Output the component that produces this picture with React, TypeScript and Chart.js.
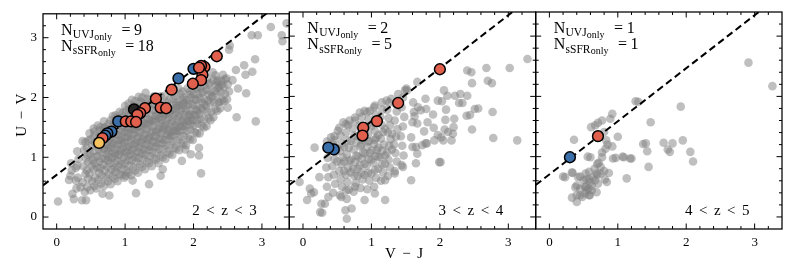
import React, { useEffect, useRef } from "react";
import { Chart, registerables } from "chart.js";

Chart.register(...registerables);

// ---------- data ----------
const X_MIN = -0.2;
const X_MAX = 3.4;
const Y_MIN = -0.2;
const Y_MAX = 3.4;
const X_TICKS = [0, 1, 2, 3];
const Y_TICKS = [0, 1, 2, 3];
const MINOR_STEP = 0.2;

const PANEL_LABELS = [
  ["2", "<", "z", "<", "3"],
  ["3", "<", "z", "<", "4"],
  ["4", "<", "z", "<", "5"],
];
const N_UVJ_ONLY = [9, 2, 1];
const N_SSFR_ONLY = [18, 5, 1];
const X_TITLE = ["V", "−", "J"];
const Y_TITLE = ["U", "−", "V"];

// UVJ selection boundary (end points)
const CUT_LINE = [
  { x: -0.2, y: 0.53 },
  { x: 3.4, y: 3.7 },
];

type P = [number, number];

const GRAY_1: P[] = [
  [0.18, 0.62], [0.22, 0.78], [0.21, 0.9],
  [0.29, 0.48], [0.31, 0.66], [0.28, 0.82], [0.32, 0.97], [0.3, 1.1],
  [0.41, 0.42], [0.38, 0.58], [0.42, 0.72], [0.39, 0.85], [0.43, 0.98], [0.4, 1.12], [0.42, 1.25],
  [0.49, 0.45], [0.52, 0.6], [0.48, 0.73], [0.51, 0.86], [0.53, 0.95], [0.49, 1.06], [0.52, 1.18], [0.5, 1.3], [0.48, 1.4],
  [0.58, 0.48], [0.61, 0.62], [0.62, 0.74], [0.59, 0.83], [0.63, 0.93], [0.6, 1.02], [0.62, 1.12], [0.58, 1.22], [0.61, 1.33], [0.63, 1.45], [0.6, 1.53],
  [0.69, 0.52], [0.72, 0.66], [0.7, 0.78], [0.68, 0.88], [0.71, 0.97], [0.73, 1.05], [0.69, 1.14], [0.72, 1.22], [0.7, 1.31], [0.74, 1.4], [0.71, 1.5], [0.69, 1.6],
  [0.79, 0.55], [0.82, 0.68], [0.8, 0.79], [0.78, 0.9], [0.81, 0.99], [0.83, 1.08], [0.79, 1.16], [0.82, 1.24], [0.8, 1.33], [0.84, 1.42], [0.81, 1.52], [0.79, 1.62], [0.82, 1.69],
  [0.89, 0.6], [0.92, 0.72], [0.9, 0.84], [0.88, 0.95], [0.91, 1.04], [0.93, 1.12], [0.89, 1.2], [0.92, 1.29], [0.9, 1.37], [0.94, 1.46], [0.91, 1.55], [0.88, 1.66], [0.92, 1.76],
  [0.99, 0.66], [1.02, 0.78], [1.0, 0.9], [0.98, 1.0], [1.01, 1.08], [1.03, 1.17], [0.99, 1.25], [1.02, 1.33], [1.0, 1.42], [1.04, 1.5], [1.01, 1.58], [0.98, 1.68], [1.02, 1.78], [1.0, 1.86],
  [1.09, 0.7], [1.12, 0.83], [1.1, 0.95], [1.08, 1.05], [1.11, 1.13], [1.13, 1.22], [1.09, 1.3], [1.12, 1.38], [1.1, 1.47], [1.14, 1.55], [1.11, 1.65], [1.08, 1.76], [1.12, 1.86], [1.1, 1.96],
  [1.19, 0.74], [1.22, 0.88], [1.2, 0.99], [1.18, 1.09], [1.21, 1.17], [1.23, 1.26], [1.19, 1.34], [1.22, 1.42], [1.2, 1.51], [1.24, 1.6], [1.21, 1.7], [1.18, 1.82], [1.22, 1.93], [1.2, 2.01],
  [1.29, 0.8], [1.32, 0.93], [1.3, 1.04], [1.28, 1.13], [1.31, 1.22], [1.33, 1.3], [1.29, 1.38], [1.32, 1.47], [1.3, 1.55], [1.34, 1.64], [1.31, 1.74], [1.28, 1.86], [1.32, 1.98], [1.3, 2.08],
  [1.39, 0.85], [1.42, 0.98], [1.4, 1.09], [1.38, 1.18], [1.41, 1.27], [1.43, 1.35], [1.39, 1.43], [1.42, 1.52], [1.4, 1.6], [1.44, 1.69], [1.41, 1.79], [1.38, 1.9], [1.42, 2.02],
  [1.49, 0.9], [1.52, 1.03], [1.5, 1.14], [1.48, 1.23], [1.51, 1.31], [1.53, 1.4], [1.49, 1.48], [1.52, 1.57], [1.5, 1.65], [1.54, 1.74], [1.51, 1.84], [1.48, 1.94], [1.52, 2.02],
  [1.59, 0.97], [1.62, 1.09], [1.6, 1.2], [1.58, 1.29], [1.61, 1.38], [1.63, 1.46], [1.59, 1.54], [1.62, 1.63], [1.6, 1.72], [1.64, 1.81], [1.61, 1.92], [1.58, 2.03],
  [1.69, 1.04], [1.72, 1.16], [1.7, 1.27], [1.68, 1.36], [1.71, 1.44], [1.73, 1.53], [1.69, 1.61], [1.72, 1.7], [1.7, 1.79], [1.74, 1.88], [1.71, 1.98], [1.68, 2.09],
  [1.79, 1.12], [1.82, 1.24], [1.8, 1.35], [1.78, 1.44], [1.81, 1.52], [1.83, 1.61], [1.79, 1.69], [1.82, 1.78], [1.8, 1.87], [1.84, 1.96], [1.81, 2.06], [1.78, 2.15],
  [1.89, 1.2], [1.92, 1.33], [1.9, 1.44], [1.88, 1.53], [1.91, 1.61], [1.93, 1.7], [1.89, 1.78], [1.92, 1.87], [1.9, 1.96], [1.94, 2.05], [1.91, 2.15],
  [1.99, 1.29], [2.02, 1.42], [2.0, 1.53], [1.98, 1.62], [2.01, 1.71], [2.03, 1.8], [1.99, 1.88], [2.02, 1.97], [2.0, 2.06], [2.04, 2.15], [2.01, 2.25],
  [2.09, 1.4], [2.12, 1.53], [2.1, 1.64], [2.08, 1.73], [2.11, 1.82], [2.13, 1.91], [2.09, 1.99], [2.12, 2.08], [2.1, 2.17], [2.13, 2.27],
  [2.19, 1.52], [2.22, 1.65], [2.2, 1.76], [2.18, 1.86], [2.21, 1.95], [2.23, 2.04], [2.19, 2.13], [2.22, 2.22], [2.2, 2.32],
  [2.29, 1.67], [2.32, 1.8], [2.3, 1.92], [2.28, 2.02], [2.31, 2.11], [2.33, 2.2], [2.29, 2.29], [2.32, 2.37],
  [2.39, 1.82], [2.42, 1.95], [2.4, 2.08], [2.38, 2.18], [2.41, 2.28], [2.43, 2.38],
  [2.49, 1.97], [2.52, 2.1], [2.5, 2.22], [2.48, 2.32],
  // interleaved second layer
  [0.45, 0.5], [0.46, 0.64], [0.44, 0.78], [0.46, 0.92], [0.45, 1.04], [0.44, 1.16], [0.46, 1.28],
  [0.55, 0.52], [0.56, 0.66], [0.54, 0.8], [0.56, 0.9], [0.55, 1.0], [0.54, 1.1], [0.56, 1.24], [0.55, 1.36], [0.54, 1.48],
  [0.65, 0.56], [0.66, 0.7], [0.64, 0.82], [0.66, 0.98], [0.65, 1.08], [0.64, 1.18], [0.66, 1.27], [0.65, 1.38], [0.64, 1.5],
  [0.75, 0.6], [0.76, 0.72], [0.74, 0.84], [0.76, 1.01], [0.75, 1.1], [0.74, 1.2], [0.76, 1.28], [0.75, 1.36], [0.74, 1.46], [0.76, 1.56],
  [0.85, 0.64], [0.86, 0.76], [0.84, 0.9], [0.86, 1.06], [0.85, 1.14], [0.84, 1.28], [0.86, 1.38], [0.85, 1.48], [0.84, 1.58], [0.86, 1.7],
  [0.95, 0.7], [0.96, 0.8], [0.94, 0.94], [0.96, 1.14], [0.95, 1.22], [0.94, 1.33], [0.96, 1.42], [0.95, 1.52], [0.94, 1.62], [0.96, 1.74],
  [1.05, 0.74], [1.06, 0.86], [1.04, 1.02], [1.06, 1.18], [1.05, 1.26], [1.04, 1.4], [1.06, 1.48], [1.05, 1.56], [1.04, 1.66], [1.06, 1.8], [1.05, 1.9],
  [1.15, 0.78], [1.16, 0.92], [1.14, 1.06], [1.16, 1.24], [1.15, 1.3], [1.14, 1.46], [1.16, 1.52], [1.15, 1.62], [1.14, 1.72], [1.16, 1.84], [1.15, 1.94],
  [1.25, 0.84], [1.26, 0.98], [1.24, 1.12], [1.26, 1.3], [1.25, 1.36], [1.24, 1.52], [1.26, 1.58], [1.25, 1.68], [1.24, 1.78], [1.26, 1.9], [1.25, 2.0],
  [1.35, 0.9], [1.36, 1.02], [1.34, 1.18], [1.36, 1.34], [1.35, 1.42], [1.34, 1.58], [1.36, 1.62], [1.35, 1.72], [1.34, 1.84], [1.36, 1.96],
  [1.45, 0.96], [1.46, 1.08], [1.44, 1.24], [1.46, 1.42], [1.45, 1.46], [1.44, 1.64], [1.46, 1.7], [1.45, 1.78], [1.44, 1.88], [1.46, 1.98],
  [1.55, 1.0], [1.56, 1.14], [1.54, 1.3], [1.56, 1.48], [1.55, 1.52], [1.54, 1.62], [1.56, 1.72], [1.55, 1.8], [1.54, 1.9],
  [1.65, 1.06], [1.66, 1.2], [1.64, 1.36], [1.66, 1.42], [1.65, 1.56], [1.64, 1.66], [1.66, 1.78], [1.65, 1.86], [1.64, 1.96],
  [1.75, 1.14], [1.76, 1.28], [1.74, 1.44], [1.76, 1.5], [1.75, 1.64], [1.74, 1.74], [1.76, 1.86], [1.75, 1.92], [1.74, 2.02],
  [1.85, 1.22], [1.86, 1.36], [1.84, 1.52], [1.86, 1.58], [1.85, 1.72], [1.84, 1.82], [1.86, 1.92], [1.85, 2.0], [1.84, 2.1],
  [1.95, 1.3], [1.96, 1.46], [1.94, 1.6], [1.96, 1.66], [1.95, 1.78], [1.94, 1.9], [1.96, 2.0], [1.95, 2.1],
  [2.05, 1.4], [2.06, 1.56], [2.04, 1.7], [2.06, 1.78], [2.05, 1.86], [2.04, 1.96], [2.06, 2.06], [2.05, 2.18],
  [2.15, 1.5], [2.16, 1.64], [2.14, 1.78], [2.16, 1.88], [2.15, 1.98], [2.14, 2.1], [2.16, 2.2],
  [2.25, 1.62], [2.26, 1.76], [2.24, 1.9], [2.26, 2.0], [2.25, 2.1], [2.24, 2.24],
  [2.35, 1.78], [2.36, 1.92], [2.34, 2.06], [2.36, 2.16], [2.35, 2.26],
  [2.45, 1.94], [2.46, 2.06], [2.44, 2.18], [2.46, 2.3],
  // denser core
  [0.75, 0.95], [0.85, 1.02], [0.95, 1.08], [1.05, 1.12], [1.15, 1.18], [1.25, 1.24], [1.35, 1.3], [1.45, 1.36], [1.55, 1.44], [1.65, 1.5], [1.75, 1.57], [1.85, 1.65], [1.95, 1.72],
  [0.75, 1.15], [0.85, 1.22], [0.95, 1.28], [1.05, 1.35], [1.15, 1.42], [1.25, 1.48], [1.35, 1.55], [1.45, 1.6], [1.55, 1.68], [1.65, 1.74], [1.75, 1.82], [1.85, 1.88],
  [0.85, 0.82], [0.95, 0.88], [1.05, 0.95], [1.15, 1.0], [1.25, 1.06], [1.35, 1.12], [1.45, 1.18], [1.55, 1.24], [1.65, 1.32], [1.75, 1.4], [1.85, 1.46], [1.95, 1.55], [2.05, 1.62],
  // sparse outskirts
  [3.13, 3.18], [3.36, 3.24], [3.29, 3.04], [3.3, 2.94], [2.94, 3.04], [2.85, 3.04], [2.53, 2.87], [2.52, 2.8],
  [2.9, 2.64], [2.74, 2.54], [2.62, 2.46], [2.76, 2.38], [2.86, 2.43], [2.28, 2.42], [2.35, 2.29], [2.57, 2.29],
  [2.41, 2.21], [2.65, 2.15], [2.77, 2.07], [2.5, 1.83], [2.63, 1.67], [2.91, 1.6], [2.38, 1.93], [2.08, 1.16],
  [2.08, 1.03], [2.11, 0.73], [1.96, 1.05], [1.83, 0.94], [1.88, 1.13], [1.55, 0.8], [1.52, 0.69], [1.35, 0.55],
  [1.16, 0.4], [1.11, 0.61], [1.01, 0.69], [0.77, 0.36], [0.67, 0.39], [0.43, 0.28], [0.37, 0.28], [0.25, 0.3],
  [0.23, 0.39], [0.02, 0.26], [0.2, 0.69], [0.28, 0.61], [0.35, 0.5], [0.3, 0.86], [0.38, 1.27], [0.55, 1.43],
  [0.69, 1.49],
];

const GRAY_2: P[] = [
  [-0.05, 0.58], [0.1, 0.47], [0.12, 0.39], [0.17, 1.15], [0.24, 0.66], [0.27, 0.22], [0.32, 0.22], [0.25, 0.08],
  [0.06, 0.28], [0.16, 0.41], [0.28, 0.07], [0.62, 0.11], [0.64, -0.03], [1.2, 0.28], [0.71, 0.14], [0.9, 0.28],
  [1.05, 0.39], [1.2, 0.61], [1.34, 0.72], [1.46, 0.83], [0.37, 0.33], [0.56, 0.33], [0.63, 0.44], [0.76, 0.5],
  [0.41, 1.32], [0.46, 1.27], [0.51, 1.43], [0.59, 1.57], [0.63, 1.54], [0.68, 1.6], [0.76, 1.65], [0.83, 1.73],
  [0.9, 1.76], [0.98, 1.76], [1.05, 1.85], [1.15, 1.9], [1.22, 1.93], [1.29, 1.96], [1.39, 2.04], [1.49, 2.1], [1.51, 2.13],
  [0.35, 0.5], [0.37, 0.66], [0.34, 0.82], [0.36, 0.98], [0.38, 1.12], [0.35, 1.25],
  [0.44, 0.4], [0.47, 0.55], [0.45, 0.7], [0.43, 0.84], [0.46, 0.96], [0.48, 1.08], [0.44, 1.2], [0.46, 1.34],
  [0.54, 0.36], [0.57, 0.5], [0.55, 0.63], [0.53, 0.76], [0.56, 0.88], [0.58, 0.99], [0.54, 1.1], [0.57, 1.22], [0.55, 1.35], [0.53, 1.48],
  [0.64, 0.3], [0.67, 0.45], [0.65, 0.58], [0.63, 0.7], [0.66, 0.82], [0.68, 0.93], [0.64, 1.04], [0.67, 1.15], [0.65, 1.27], [0.63, 1.4], [0.66, 1.52],
  [0.74, 0.42], [0.77, 0.56], [0.75, 0.68], [0.73, 0.8], [0.76, 0.91], [0.78, 1.02], [0.74, 1.12], [0.77, 1.23], [0.75, 1.35], [0.73, 1.47], [0.76, 1.6],
  [0.84, 0.48], [0.87, 0.62], [0.85, 0.74], [0.83, 0.86], [0.86, 0.97], [0.88, 1.07], [0.84, 1.17], [0.87, 1.28], [0.85, 1.4], [0.83, 1.52], [0.86, 1.66],
  [0.94, 0.46], [0.97, 0.6], [0.95, 0.73], [0.93, 0.85], [0.96, 0.96], [0.98, 1.06], [0.94, 1.16], [0.97, 1.26], [0.95, 1.37], [0.93, 1.5], [0.96, 1.62], [0.94, 1.74],
  [1.04, 0.5], [1.07, 0.65], [1.05, 0.78], [1.03, 0.9], [1.06, 1.01], [1.08, 1.11], [1.04, 1.21], [1.07, 1.31], [1.05, 1.43], [1.03, 1.56], [1.06, 1.7], [1.04, 1.82],
  [1.14, 0.6], [1.17, 0.74], [1.15, 0.87], [1.13, 0.99], [1.16, 1.1], [1.18, 1.2], [1.14, 1.3], [1.17, 1.41], [1.15, 1.53], [1.13, 1.66], [1.16, 1.78],
  [1.24, 0.68], [1.27, 0.82], [1.25, 0.95], [1.23, 1.07], [1.26, 1.18], [1.28, 1.29], [1.24, 1.4], [1.27, 1.52], [1.25, 1.64], [1.23, 1.78], [1.26, 1.9],
  [1.34, 0.76], [1.37, 0.92], [1.35, 1.06], [1.33, 1.2], [1.36, 1.33], [1.38, 1.46], [1.34, 1.6], [1.37, 1.75], [1.35, 1.88],
  [1.44, 0.86], [1.47, 1.02], [1.45, 1.18], [1.43, 1.34], [1.46, 1.5], [1.48, 1.66], [1.44, 1.82], [1.46, 1.98],
  [0.7, 0.95], [0.8, 1.0], [0.9, 1.05], [1.0, 1.1], [1.1, 1.15], [0.8, 0.8], [0.9, 0.88], [1.0, 0.95], [1.1, 1.0], [0.85, 1.2], [0.95, 1.25], [1.05, 1.28],
  [0.6, 0.76], [0.7, 0.74], [0.8, 0.68], [0.9, 0.7], [1.0, 0.72], [1.1, 0.8], [1.2, 0.88], [0.6, 1.16], [0.7, 1.26], [0.8, 1.34], [0.9, 1.42], [1.0, 1.5],
  [1.1, 1.36], [1.2, 1.46], [1.3, 1.12], [1.3, 1.38], [0.5, 0.92], [0.5, 1.14], [0.6, 0.92], [1.2, 1.02],
  // right-hand sparse part
  [3.28, 2.62], [3.02, 2.47], [2.68, 2.47], [2.4, 2.43], [2.46, 2.4], [2.7, 2.26], [2.76, 2.22], [2.47, 2.22],
  [3.13, 1.27], [2.78, 1.31], [2.47, 1.45], [2.77, 1.74], [2.51, 1.79], [2.39, 1.68], [2.3, 2.04], [2.4, 2.01],
  [2.22, 2.01], [2.11, 2.01], [2.06, 2.1], [1.97, 1.93], [2.03, 1.92], [2.28, 1.89], [2.09, 1.78], [1.79, 1.96],
  [1.68, 1.82], [1.8, 1.79], [1.9, 1.7], [2.21, 1.63], [2.08, 1.61], [1.61, 1.9], [1.63, 1.67], [1.82, 1.57],
  [1.91, 1.48], [1.77, 1.42], [2.07, 1.45], [2.12, 1.41], [2.19, 1.38], [1.97, 1.36], [2.02, 1.32], [2.05, 1.27],
  [2.17, 1.27], [1.79, 1.22], [1.74, 1.19], [1.58, 1.32], [1.65, 1.16], [1.99, 0.91], [1.65, 0.89], [1.58, 0.61],
  [1.6, 1.57], [1.67, 2.24], [1.52, 2.1], [1.62, 1.74], [1.72, 1.77], [1.67, 1.55], [1.81, 1.22], [1.67, 1.05],
  [1.6, 1.16], [2.01, 0.91], [2.33, 1.89], [2.56, 1.8], [2.44, 1.69], [2.2, 1.49], [1.92, 1.27],
];

const GRAY_3: P[] = [
  [2.91, 2.56], [3.26, 2.17], [1.92, 1.83], [1.26, 1.92], [1.3, 1.91], [0.92, 1.71], [0.77, 1.6], [0.71, 1.56],
  [0.61, 1.49], [0.67, 1.52], [0.89, 1.63], [0.36, 1.28], [1.0, 1.33], [0.82, 1.13], [0.77, 1.07], [0.85, 1.2],
  [0.92, 1.17], [1.48, 1.57], [1.41, 1.22], [1.43, 1.09], [1.67, 1.23], [1.8, 1.22], [1.73, 1.12], [1.76, 1.08],
  [1.95, 1.27], [2.06, 1.08], [2.1, 0.92], [1.45, 0.83], [1.2, 0.97], [1.09, 0.99], [0.97, 0.98], [0.93, 0.97],
  [0.6, 0.99], [1.13, 0.64], [0.23, 0.66], [0.34, 0.73], [0.45, 0.67], [0.53, 0.72], [0.58, 0.75], [0.5, 0.61],
  [0.4, 0.52], [0.38, 0.49], [0.45, 0.47], [0.53, 0.5], [0.6, 0.58], [0.67, 0.61], [0.75, 0.72], [0.8, 0.76],
  [0.87, 0.73], [0.72, 0.9], [0.75, 0.83], [0.7, 0.69], [0.62, 0.52], [0.55, 0.44], [0.62, 0.44], [0.58, 0.36],
  [0.48, 0.33], [0.4, 0.25], [0.33, 0.32], [0.4, 0.36], [0.77, 0.99], [0.8, 1.41], [0.83, 1.27], [0.42, 0.66],
  [0.54, 0.63], [0.64, 0.66], [0.69, 0.72], [0.81, 0.62], [0.84, 0.58], [0.71, 0.55], [0.57, 0.47], [0.52, 0.5],
  [0.45, 0.36], [0.52, 0.39], [0.59, 0.36], [0.69, 0.41], [0.33, 0.74], [0.2, 0.67], [0.56, 1.0], [0.7, 0.88],
  [1.37, 1.21], [1.07, 1.0], [1.18, 0.97], [0.66, 0.8], [0.58, 0.62],
];

const BLUE_1: P[] = [[2.0, 2.48], [1.78, 2.32], [0.9, 1.6], [0.8, 1.43], [0.74, 1.4], [0.71, 1.36]];
const DARK_1: P[] = [[1.13, 1.8]];
const RED_1: P[] = [
  [2.34, 2.69], [2.16, 2.51], [2.11, 2.53], [2.13, 2.38], [2.11, 2.29], [1.99, 2.23], [1.68, 2.13], [1.45, 1.98],
  [1.52, 1.83], [1.6, 1.82], [1.29, 1.82], [1.22, 1.74], [1.18, 1.71], [1.01, 1.6], [1.09, 1.6], [1.16, 1.59],
  [0.67, 1.32], [2.08, 2.5],
];
const YELLOW_1: P[] = [[0.62, 1.24]];

const BLUE_2: P[] = [[0.45, 1.12], [0.37, 1.15]];
const RED_2: P[] = [[2.0, 2.45], [1.39, 1.89], [1.08, 1.59], [0.88, 1.48], [0.87, 1.35]];

const BLUE_3: P[] = [[0.3, 0.99]];
const RED_3: P[] = [[0.71, 1.34]];

const GRAY = [GRAY_1, GRAY_2, GRAY_3];
const BLUE = [BLUE_1, BLUE_2, BLUE_3];
const RED = [RED_1, RED_2, RED_3];
const YELLOW = [YELLOW_1, [] as P[], [] as P[]];
const DARK = [DARK_1, [] as P[], [] as P[]];

// ---------- layout / style ----------
const W = 793;
const H = 278;
const PANEL_LEFT = [43, 289.3, 535.7];
const PANEL_RIGHT = [289.3, 535.7, 782];
const PLOT_TOP = 12;
const PLOT_BOTTOM = 229;
const FONT = "'Liberation Serif', 'Times New Roman', serif";

const C_GRAY = "rgba(128,128,128,0.5)";
const C_RED = "#e1604d";
const C_BLUE = "#3a6ea8";
const C_YELLOW = "#f7c25e";
const C_DARK = "#262626";

const toXY = (a: P[]) => a.map(([x, y]) => ({ x, y }));

function drawTokens(ctx: CanvasRenderingContext2D, toks: string[], gap: number, x: number, y: number, align: "left" | "right" | "center") {
  let total = 0;
  toks.forEach((t, k) => {
    total += ctx.measureText(t).width + (k > 0 ? gap : 0);
  });
  let tx = align === "left" ? x : align === "right" ? x - total : x - total / 2;
  ctx.textAlign = "left";
  toks.forEach((t) => {
    ctx.fillText(t, tx, y);
    tx += ctx.measureText(t).width + gap;
  });
}

function makePlugin(i: number) {
  return {
    id: "panelDecor" + i,
    afterDraw(chart: any) {
      const { ctx, chartArea: a, scales } = chart;
      const xs = scales.x;
      const ys = scales.y;
      ctx.save();
      // frame
      ctx.strokeStyle = "#000";
      ctx.lineWidth = 1.25;
      ctx.strokeRect(a.left, a.top, a.right - a.left, a.bottom - a.top);
      // inward ticks on all sides
      ctx.lineWidth = 1;
      ctx.beginPath();
      const nx = Math.round((X_MAX - X_MIN) / MINOR_STEP);
      for (let k = 1; k < nx; k++) {
        const v = Math.round((X_MIN + k * MINOR_STEP) * 10) / 10;
        const major = X_TICKS.includes(v);
        const len = major ? 5.5 : 3;
        const px = xs.getPixelForValue(v);
        ctx.moveTo(px, a.bottom);
        ctx.lineTo(px, a.bottom - len);
        ctx.moveTo(px, a.top);
        ctx.lineTo(px, a.top + len);
      }
      const ny = Math.round((Y_MAX - Y_MIN) / MINOR_STEP);
      for (let k = 1; k < ny; k++) {
        const v = Math.round((Y_MIN + k * MINOR_STEP) * 10) / 10;
        const major = Y_TICKS.includes(v);
        const len = major ? 5.5 : 3;
        const py = ys.getPixelForValue(v);
        ctx.moveTo(a.left, py);
        ctx.lineTo(a.left + len, py);
        ctx.moveTo(a.right, py);
        ctx.lineTo(a.right - len, py);
      }
      ctx.stroke();

      // counts text
      ctx.fillStyle = "#000";
      ctx.textBaseline = "alphabetic";
      ctx.textAlign = "left";
      const drawCount = (x: number, y: number, sub: string, n: number) => {
        ctx.font = `16px ${FONT}`;
        ctx.fillText("N", x, y);
        let cx = x + ctx.measureText("N").width + 0.3;
        ctx.font = `11.5px ${FONT}`;
        ctx.fillText(sub, cx, y + 3.2);
        cx += ctx.measureText(sub).width + 0.2;
        ctx.font = `10px ${FONT}`;
        ctx.fillText("only", cx, y + 5);
        cx += ctx.measureText("only").width + 9.5;
        ctx.font = `16px ${FONT}`;
        ctx.fillText("=", cx, y);
        cx += ctx.measureText("=").width + 3.5;
        ctx.fillText(String(n), cx, y);
      };
      drawCount(a.left + 18, a.top + 20.7, "UVJ", N_UVJ_ONLY[i]);
      drawCount(a.left + 18, a.top + 37.3, "sSFR", N_SSFR_ONLY[i]);

      // redshift label (right aligned)
      ctx.font = `15px ${FONT}`;
      drawTokens(ctx, PANEL_LABELS[i], 6.5, a.right - 32.5, a.bottom - 14, "right");

      // axis titles
      ctx.font = `15px ${FONT}`;
      if (i === 1) {
        drawTokens(ctx, X_TITLE, 6.5, a.left + 114.7, a.bottom + 29, "center");
      }
      if (i === 0) {
        ctx.save();
        ctx.translate(a.left - 21, a.top + 101.5);
        ctx.rotate(-Math.PI / 2);
        ctx.textBaseline = "middle";
        drawTokens(ctx, Y_TITLE, 6.5, 0, 0, "center");
        ctx.restore();
      }
      ctx.restore();
    },
  };
}

function makeConfig(i: number): any {
  const pt = (data: P[], color: string, order: number, label: string) => ({
    label,
    data: toXY(data),
    backgroundColor: color,
    borderColor: "#000",
    borderWidth: 1.5,
    pointRadius: 5.4,
    pointHoverRadius: 5.4,
    order,
    clip: 0,
  });
  const tickFont = { family: FONT, size: 13 };
  return {
    type: "scatter",
    data: {
      datasets: [
        pt(YELLOW[i], C_YELLOW, 0, "both"),
        pt(RED[i], C_RED, 1, "sSFR only"),
        pt(DARK[i], C_DARK, 2, "other"),
        pt(BLUE[i], C_BLUE, 3, "UVJ only"),
        {
          label: "UVJ boundary",
          data: CUT_LINE,
          showLine: true,
          borderColor: "#000",
          borderWidth: 2,
          borderDash: [7, 4],
          pointRadius: 0,
          fill: false,
          order: 4,
          clip: 0,
        },
        {
          label: "all",
          data: toXY(GRAY[i]),
          backgroundColor: C_GRAY,
          borderWidth: 0,
          pointRadius: 4.3,
          pointHoverRadius: 4.3,
          order: 5,
          clip: 0,
        },
      ],
    },
    options: {
      animation: false,
      responsive: false,
      maintainAspectRatio: false,
      devicePixelRatio: 1,
      events: [],
      layout: {
        padding: {
          left: i === 0 ? 0 : PANEL_LEFT[i],
          right: W - PANEL_RIGHT[i],
          top: PLOT_TOP,
          bottom: 0,
        },
      },
      plugins: { legend: { display: false }, tooltip: { enabled: false } },
      scales: {
        x: {
          type: "linear",
          min: X_MIN,
          max: X_MAX,
          afterBuildTicks: (s: any) => {
            s.ticks = X_TICKS.map((v) => ({ value: v }));
          },
          afterFit: (s: any) => {
            s.height = H - PLOT_BOTTOM;
          },
          grid: { display: false, drawTicks: false },
          border: { display: false },
          ticks: {
            color: "#000",
            font: tickFont,
            padding: 6,
            maxRotation: 0,
            autoSkip: false,
            callback: (v: any) => String(v),
          },
        },
        y: {
          type: "linear",
          display: i === 0,
          min: Y_MIN,
          max: Y_MAX,
          afterBuildTicks: (s: any) => {
            s.ticks = Y_TICKS.map((v) => ({ value: v }));
          },
          afterFit: (s: any) => {
            s.width = i === 0 ? PANEL_LEFT[0] : 0;
          },
          grid: { display: false, drawTicks: false },
          border: { display: false },
          ticks: {
            color: "#000",
            font: tickFont,
            padding: 6,
            autoSkip: false,
            callback: (v: any) => String(v),
          },
        },
      },
    },
    plugins: [makePlugin(i)],
  };
}

export default function App() {
  const refs = [useRef<HTMLCanvasElement>(null), useRef<HTMLCanvasElement>(null), useRef<HTMLCanvasElement>(null)];
  useEffect(() => {
    const charts = refs.map((r, i) => new Chart(r.current as HTMLCanvasElement, makeConfig(i)));
    return () => charts.forEach((c) => c.destroy());
  }, []);
  return (
    <div style={{ position: "fixed", left: 0, top: 0, width: W, height: H, background: "#fff" }}>
      {refs.map((r, i) => (
        <canvas
          key={i}
          ref={r}
          width={W}
          height={H}
          style={{ position: "absolute", left: 0, top: 0, width: W, height: H }}
        />
      ))}
    </div>
  );
}
